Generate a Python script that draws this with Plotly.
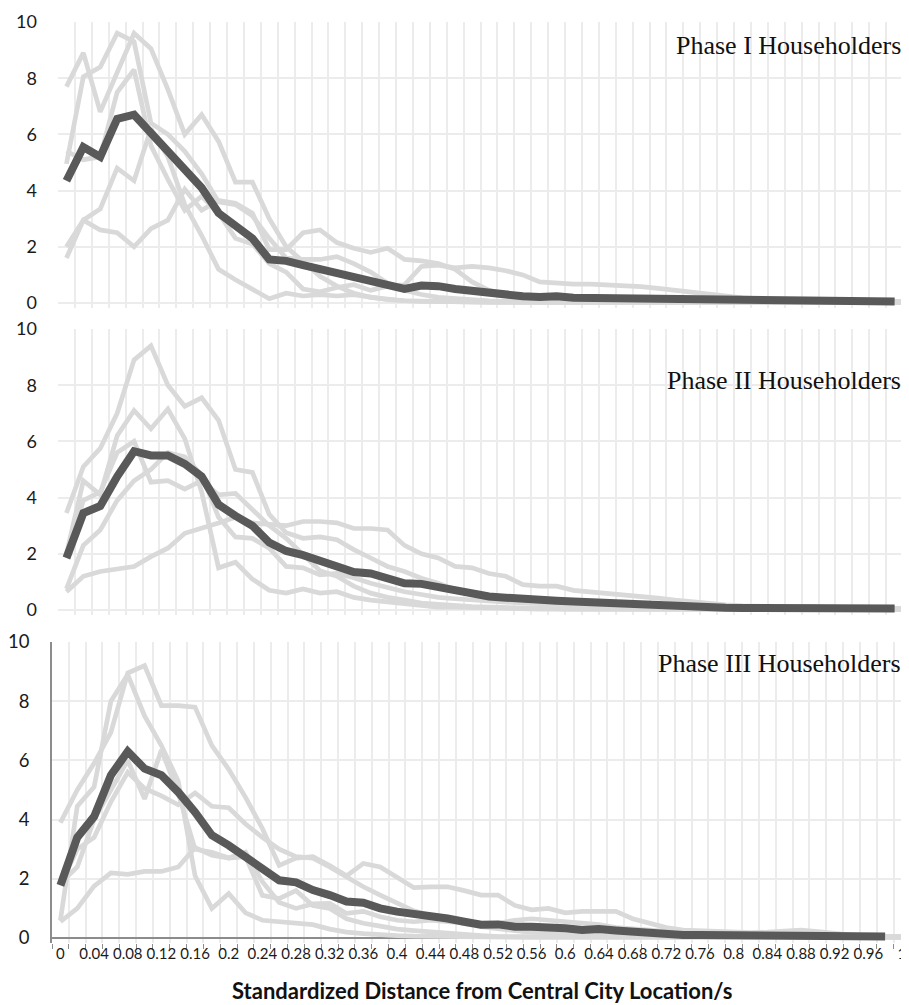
import plotly.graph_objects as go

# ---------------- data ----------------
distance = [0, 0.02, 0.04, 0.06, 0.08, 0.1, 0.12, 0.14, 0.16, 0.18,
            0.2, 0.22, 0.24, 0.26, 0.28, 0.3, 0.32, 0.34, 0.36, 0.38,
            0.4, 0.42, 0.44, 0.46, 0.48, 0.5, 0.52, 0.54, 0.56, 0.58,
            0.6, 0.62, 0.64, 0.66, 0.68, 0.7, 0.72, 0.74, 0.76, 0.78,
            0.8, 0.82, 0.84, 0.86, 0.88, 0.9, 0.92, 0.94, 0.96, 0.98, 1.0]

tick_values = [0, 0.04, 0.08, 0.12, 0.16, 0.2, 0.24, 0.28, 0.32, 0.36, 0.4, 0.44, 0.48,
               0.52, 0.56, 0.6, 0.64, 0.68, 0.72, 0.76, 0.8, 0.84, 0.88, 0.92, 0.96, 1.0]
tick_labels = ["0", "0.04", "0.08", "0.12", "0.16", "0.2", "0.24", "0.28", "0.32", "0.36",
               "0.4", "0.44", "0.48", "0.52", "0.56", "0.6", "0.64", "0.68", "0.72", "0.76",
               "0.8", "0.84", "0.88", "0.92", "0.96", "1"]

panel_titles = ["Phase I Householders", "Phase II Householders", "Phase III Householders"]

# Phase I
p1_a = [7.7, 8.9, 6.8, 8.2, 9.6, 9.05, 7.6, 6.0, 6.7, 5.75, 4.3, 4.3, 3.0, 2.0, 1.5, 0.95, 0.6, 0.35, 0.2, 0.12,
        0.08, 0.06, 0.05, 0.04, 0.04, 0.03, 0.03, 0.03, 0.02, 0.02, 0.02, 0.02, 0.02, 0.02, 0.02, 0.02, 0.02, 0.02,
        0.02, 0.02, 0.02, 0.02, 0.02, 0.02, 0.02, 0.02, 0.02, 0.02, 0.02, 0.02, 0.02]
p1_c = [4.95, 8.05, 8.4, 9.6, 9.3, 6.4, 6.0, 5.4, 4.6, 3.6, 3.5, 3.1, 2.3, 1.6, 1.55, 1.55, 1.65, 1.4, 1.1, 0.7,
        0.45, 0.3, 0.2, 0.15, 0.1, 0.08, 0.06, 0.05, 0.04, 0.04, 0.03, 0.03, 0.03, 0.03, 0.03, 0.03, 0.03, 0.03,
        0.03, 0.03, 0.03, 0.03, 0.03, 0.03, 0.03, 0.03, 0.03, 0.03, 0.03, 0.03, 0.03]
p1_e = [5.4, 5.1, 5.2, 7.5, 8.3, 5.6, 4.4, 3.3, 3.8, 3.2, 2.3, 2.1, 1.4, 1.1, 0.5, 0.4, 0.55, 0.65, 0.45, 0.6,
        0.65, 1.3, 1.35, 1.25, 1.3, 1.25, 1.15, 1.0, 0.75, 0.7, 0.67, 0.67, 0.65, 0.62, 0.58, 0.52, 0.45, 0.38,
        0.3, 0.22, 0.18, 0.15, 0.12, 0.1, 0.08, 0.06, 0.05, 0.05, 0.05, 0.05, 0.05]
p1_d = [1.6, 2.95, 3.35, 4.8, 4.35, 6.2, 5.2, 3.5, 2.4, 1.2, 0.83, 0.48, 0.15, 0.35, 0.25, 0.3, 0.25, 0.3, 0.2,
        0.12, 0.08, 0.06, 0.05, 0.04, 0.03, 0.02, 0.02, 0.02, 0.02, 0.02, 0.02, 0.02, 0.02, 0.02, 0.02, 0.02, 0.02,
        0.02, 0.02, 0.02, 0.02, 0.02, 0.02, 0.02, 0.02, 0.02, 0.02, 0.02, 0.02, 0.02, 0.02]
p1_f = [2.0, 2.95, 2.6, 2.5, 2.0, 2.65, 2.95, 4.05, 3.3, 3.65, 3.55, 3.2, 1.9, 1.9, 2.5, 2.6, 2.15, 1.95, 1.8,
        1.95, 1.55, 1.5, 1.4, 1.2, 0.75, 0.45, 0.3, 0.2, 0.15, 0.12, 0.1, 0.1, 0.1, 0.1, 0.1, 0.08, 0.08, 0.08,
        0.08, 0.06, 0.06, 0.06, 0.06, 0.05, 0.05, 0.05, 0.05, 0.05, 0.05, 0.05, 0.05]
p1_mean = [4.35, 5.55, 5.2, 6.55, 6.7, 6.0, 5.4, 4.75, 4.1, 3.2, 2.75, 2.3, 1.55, 1.5, 1.35, 1.2, 1.05, 0.95,
           0.75, 0.6, 0.5, 0.62, 0.6, 0.5, 0.42, 0.33, 0.27, 0.24, 0.21, 0.24, 0.19, 0.18, 0.17, 0.15, 0.14, 0.13,
           0.12, 0.11, 0.1, 0.1, 0.09, 0.08, 0.08, 0.1, 0.1, 0.08, 0.06, 0.05, 0.05, 0.05]

# Phase II
p2_b = [3.45, 5.1, 5.75, 7.0, 8.9, 9.4, 8.0, 7.25, 7.55, 6.75, 5.0, 4.9, 3.4, 2.75, 2.55, 2.6, 2.5, 2.15, 1.85,
        1.55, 1.37, 1.13, 0.95, 0.72, 0.6, 0.5, 0.42, 0.36, 0.3, 0.25, 0.2, 0.18, 0.15, 0.12, 0.1, 0.08, 0.06,
        0.05, 0.04, 0.03, 0.03, 0.02, 0.02, 0.02, 0.02, 0.02, 0.02, 0.02, 0.02, 0.02, 0.02]
p2_l = [0.65, 1.2, 1.37, 1.48, 1.55, 1.9, 2.2, 2.73, 2.9, 3.1, 3.3, 3.1, 3.05, 3.0, 3.15, 3.15, 3.1, 2.9, 2.9,
        2.85, 2.3, 2.0, 1.85, 1.55, 1.5, 1.3, 1.2, 0.9, 0.85, 0.85, 0.7, 0.65, 0.6, 0.55, 0.5, 0.42, 0.35, 0.28,
        0.22, 0.18, 0.15, 0.12, 0.1, 0.1, 0.12, 0.1, 0.08, 0.06, 0.05, 0.05, 0.05]
p2_g = [2.0, 4.6, 4.1, 6.2, 7.1, 6.45, 7.15, 6.1, 4.2, 1.5, 1.7, 1.1, 0.7, 0.6, 0.75, 0.6, 0.65, 0.45, 0.35,
        0.28, 0.2, 0.15, 0.1, 0.1, 0.08, 0.06, 0.05, 0.04, 0.03, 0.03, 0.02, 0.02, 0.02, 0.02, 0.02, 0.02, 0.02,
        0.02, 0.02, 0.02, 0.02, 0.02, 0.02, 0.02, 0.02, 0.02, 0.02, 0.02, 0.02, 0.02, 0.02]
p2_k = [1.9, 3.9, 4.2, 5.6, 6.0, 4.55, 4.6, 4.3, 4.6, 4.1, 4.15, 3.6, 3.0, 2.55, 2.0, 1.4, 1.2, 0.85, 0.6, 0.45,
        0.35, 0.25, 0.2, 0.15, 0.12, 0.1, 0.08, 0.06, 0.05, 0.04, 0.03, 0.03, 0.03, 0.03, 0.03, 0.03, 0.03, 0.03,
        0.03, 0.03, 0.03, 0.03, 0.03, 0.03, 0.03, 0.03, 0.03, 0.03, 0.03, 0.03, 0.03]
p2_h = [0.75, 2.3, 2.85, 3.9, 4.6, 5.0, 5.6, 5.45, 4.8, 3.3, 2.6, 2.55, 2.2, 1.55, 1.5, 1.25, 1.3, 1.15, 0.95,
        0.8, 0.65, 0.55, 0.45, 0.4, 0.35, 0.3, 0.28, 0.25, 0.22, 0.2, 0.18, 0.15, 0.12, 0.1, 0.1, 0.08, 0.08,
        0.06, 0.06, 0.05, 0.05, 0.05, 0.05, 0.05, 0.05, 0.05, 0.05, 0.05, 0.05, 0.05, 0.05]
p2_mean = [1.85, 3.45, 3.7, 4.75, 5.65, 5.5, 5.5, 5.2, 4.75, 3.75, 3.35, 3.0, 2.4, 2.1, 1.95, 1.75, 1.6, 1.35,
           1.3, 1.15, 0.95, 0.93, 0.82, 0.67, 0.57, 0.48, 0.44, 0.38, 0.36, 0.33, 0.3, 0.27, 0.24, 0.2, 0.17,
           0.14, 0.12, 0.1, 0.09, 0.08, 0.07, 0.07, 0.08, 0.1, 0.1, 0.08, 0.06, 0.05, 0.05, 0.05]

# Phase III
p3_big = [3.9, 5.0, 5.9, 6.95, 8.95, 9.2, 7.85, 7.85, 7.8, 6.5, 5.7, 4.75, 3.7, 2.45, 2.7, 2.75, 2.45, 2.1,
          2.52, 2.4, 2.05, 1.7, 1.73, 1.73, 1.6, 1.45, 1.45, 1.1, 0.95, 1.0, 0.85, 0.9, 0.9, 0.9, 0.65, 0.5,
          0.35, 0.27, 0.25, 0.2, 0.18, 0.18, 0.2, 0.25, 0.27, 0.22, 0.15, 0.1, 0.06, 0.04, 0.03]
p3_g = [1.8, 3.0, 3.4, 4.6, 5.6, 5.05, 4.8, 4.5, 4.9, 4.45, 4.4, 3.85, 3.4, 3.0, 2.75, 2.7, 2.4, 2.07, 1.73,
        1.45, 1.17, 0.92, 0.75, 0.6, 0.48, 0.38, 0.3, 0.25, 0.2, 0.15, 0.12, 0.1, 0.1, 0.08, 0.07, 0.06, 0.05,
        0.05, 0.05, 0.04, 0.04, 0.04, 0.04, 0.04, 0.03, 0.03, 0.03, 0.03, 0.03, 0.03, 0.03]
p3_l = [0.55, 1.0, 1.75, 2.2, 2.15, 2.25, 2.25, 2.4, 3.05, 2.8, 2.7, 2.9, 1.9, 1.2, 1.0, 1.15, 1.17, 0.83, 0.9,
        0.72, 0.6, 0.55, 0.6, 0.55, 0.5, 0.45, 0.5, 0.6, 0.65, 0.6, 0.55, 0.5, 0.45, 0.35, 0.3, 0.25, 0.2, 0.18,
        0.15, 0.12, 0.1, 0.08, 0.06, 0.05, 0.05, 0.05, 0.04, 0.04, 0.04, 0.04, 0.04]
p3_c = [1.85, 2.4, 4.0, 5.0, 6.0, 4.7, 6.35, 4.9, 3.0, 2.9, 2.7, 2.75, 1.44, 1.33, 1.6, 1.1, 1.0, 0.65, 0.5,
        0.4, 0.3, 0.25, 0.2, 0.15, 0.1, 0.08, 0.05, 0.05, 0.05, 0.05, 0.05, 0.05, 0.05, 0.05, 0.05, 0.05, 0.05,
        0.05, 0.05, 0.05, 0.05, 0.05, 0.05, 0.05, 0.05, 0.05, 0.05, 0.05, 0.05, 0.05, 0.05]
p3_n = [0.6, 4.45, 5.1, 8.0, 8.9, 7.5, 6.5, 5.3, 2.1, 1.0, 1.5, 0.85, 0.6, 0.55, 0.5, 0.45, 0.3, 0.2, 0.15, 0.1,
        0.08, 0.06, 0.05, 0.04, 0.03, 0.02, 0.02, 0.02, 0.02, 0.02, 0.02, 0.02, 0.02, 0.02, 0.02, 0.02, 0.02,
        0.02, 0.02, 0.02, 0.02, 0.02, 0.02, 0.02, 0.02, 0.02, 0.02, 0.02, 0.02, 0.02, 0.02]
p3_mean = [1.78, 3.4, 4.1, 5.5, 6.3, 5.72, 5.5, 4.93, 4.25, 3.47, 3.13, 2.74, 2.34, 1.95, 1.88, 1.62, 1.45,
           1.23, 1.19, 1.0, 0.89, 0.83, 0.78, 0.66, 0.55, 0.45, 0.46, 0.38, 0.38, 0.38, 0.33, 0.27, 0.3, 0.25,
           0.2, 0.15, 0.12, 0.1, 0.1, 0.1, 0.08, 0.08, 0.1, 0.1, 0.1, 0.08, 0.06, 0.05, 0.05, 0.05]

panels = [
    ([p1_a, p1_c, p1_e, p1_d, p1_f], p1_mean),
    ([p2_b, p2_l, p2_g, p2_k, p2_h], p2_mean),
    ([p3_big, p3_g, p3_l, p3_c, p3_n], p3_mean),
]
for lights, mean in panels:
    for s in lights:
        assert len(s) == len(distance), len(s)
    assert len(mean) == len(distance) - 1, len(mean)

# ---------------- figure ----------------
# The page body has an 8px margin, so the figure is made 8px smaller on
# each axis and every screen position is converted with OFF.
VIEW_W, VIEW_H = 909, 1005
OFF = 8
W, H = VIEW_W - OFF, VIEW_H - OFF
LIGHT = "#d9d9d9"
DARK = "#595959"
GRID = "#ececec"


def px_x(s):
    return (s - OFF) / W


def px_y(s):
    return 1 - (s - OFF) / H


fig = go.Figure()
for k, (lights, mean) in enumerate(panels):
    sfx = "" if k == 0 else str(k + 1)
    for s in lights:
        fig.add_trace(go.Scatter(x=distance, y=s, mode="lines", xaxis="x" + sfx, yaxis="y" + sfx,
                                 line=dict(color=LIGHT, width=4.7), showlegend=False, hoverinfo="skip"))
    fig.add_trace(go.Scatter(x=distance[:len(mean)], y=mean, mode="lines", xaxis="x" + sfx, yaxis="y" + sfx,
                             line=dict(color=DARK, width=8), showlegend=False))

# screen geometry of the three plot areas (top = value 10, zero line, left edge)
geo = [
    dict(top=22, zero=303, left=58, xmax=0.997),
    dict(top=329, zero=610, left=58, xmax=0.997),
    dict(top=642, zero=938, left=52, xmax=1.0084),
]
YMIN = -0.17
layout = dict(width=W, height=H, margin=dict(l=0, r=0, t=0, b=0, autoexpand=False),
              plot_bgcolor="white", paper_bgcolor="white", showlegend=False)
for k, g in enumerate(geo):
    sfx = "" if k == 0 else str(k + 1)
    ppu = (g["zero"] - g["top"]) / 10.0
    bottom = g["zero"] - YMIN * ppu
    last = (k == 2)
    layout["xaxis" + sfx] = dict(
        domain=[px_x(g["left"]), 1], range=[-0.01, g["xmax"]], anchor="y" + sfx, automargin=False,
        showgrid=False, zeroline=False, showline=False,
        tickmode="array", tickvals=tick_values, ticktext=tick_labels,
        showticklabels=last, ticks="",
        tickfont=dict(family="Lato", size=15, color="#1a1a1a"),
        minor=dict(tick0=0.01, dtick=0.02, showgrid=True, gridcolor=GRID, gridwidth=1.5,
                   ticks="outside" if last else "", ticklen=5, tickcolor="#8c8c8c", tickwidth=1.2),
    )
    layout["yaxis" + sfx] = dict(
        domain=[px_y(bottom), px_y(g["top"])], range=[YMIN, 10], anchor="x" + sfx, automargin=False,
        tickmode="array", tickvals=[0, 2, 4, 6, 8, 10],
        showgrid=True, gridcolor=GRID, gridwidth=1.5,
        zeroline=last, zerolinecolor="#8c8c8c", zerolinewidth=1.5,
        showline=last, linecolor="#8c8c8c", linewidth=1.5,
        ticks="", ticklabelstandoff=20 if not last else 17,
        tickfont=dict(family="Lato", size=18 if not last else 18.5, color="#1a1a1a"),
    )
fig.update_layout(**layout)

title_y = [45, 381, 663]
for k, t in enumerate(panel_titles):
    fig.add_annotation(text=t, xref="paper", yref="paper", x=px_x(903), y=px_y(title_y[k]),
                       xanchor="right", yanchor="middle", showarrow=False,
                       font=dict(family="Liberation Serif", size=26, color="#111111"))

fig.add_annotation(text="<b>Standardized Distance from Central City Location/s</b>",
                   xref="paper", yref="paper", x=px_x(482), y=px_y(990),
                   xanchor="center", yanchor="middle", showarrow=False,
                   font=dict(family="Lato", size=22, color="#111111"))

fig.write_html("out.html")
